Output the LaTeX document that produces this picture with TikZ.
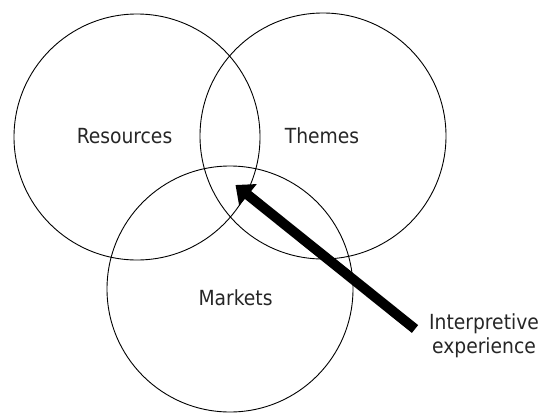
\documentclass[tikz,border=0pt]{standalone}
\usepackage{fontspec}
\setmainfont{DejaVu Sans Condensed}
\usepackage{tikz}
\usetikzlibrary{arrows.meta, positioning}

\tikzset{
    ring/.style={draw=black, line width=0.9pt, circle, minimum size=246pt, inner sep=0pt},
    tag/.style={font=\fontsize{20.8}{24}\selectfont, text=black!85, anchor=base, inner sep=0pt},
    pointer/.style={line width=10pt, -{Triangle[length=16pt, width=27pt]}}
}

\begin{document}
\begin{tikzpicture}[x=1pt, y=-1pt]
        \useasboundingbox (0,0) rectangle (543,415);

        % The three overlapping sets
        \foreach \name/\cx/\cy in {resources/137/137, themes/323/136, markets/230/289} {
            \node[ring] (\name) at (\cx,\cy) {};
        }
        \node[tag] (resourcesLabel) at (124.5,143) {Resources};
        \node[tag] (themesLabel) at (322,143) {Themes};
        \node[tag] (marketsLabel) at (235.5,305) {Markets};

        % Arrow pointing into the common overlap
        \node[tag, align=center] (interp) at (484,353) {Interpretive\\experience};
        \coordinate (tail) at (415,329);
        \coordinate (core) at (235.5,185);
        \draw[pointer] (tail) -- (core);
    \end{tikzpicture}
\end{document}
